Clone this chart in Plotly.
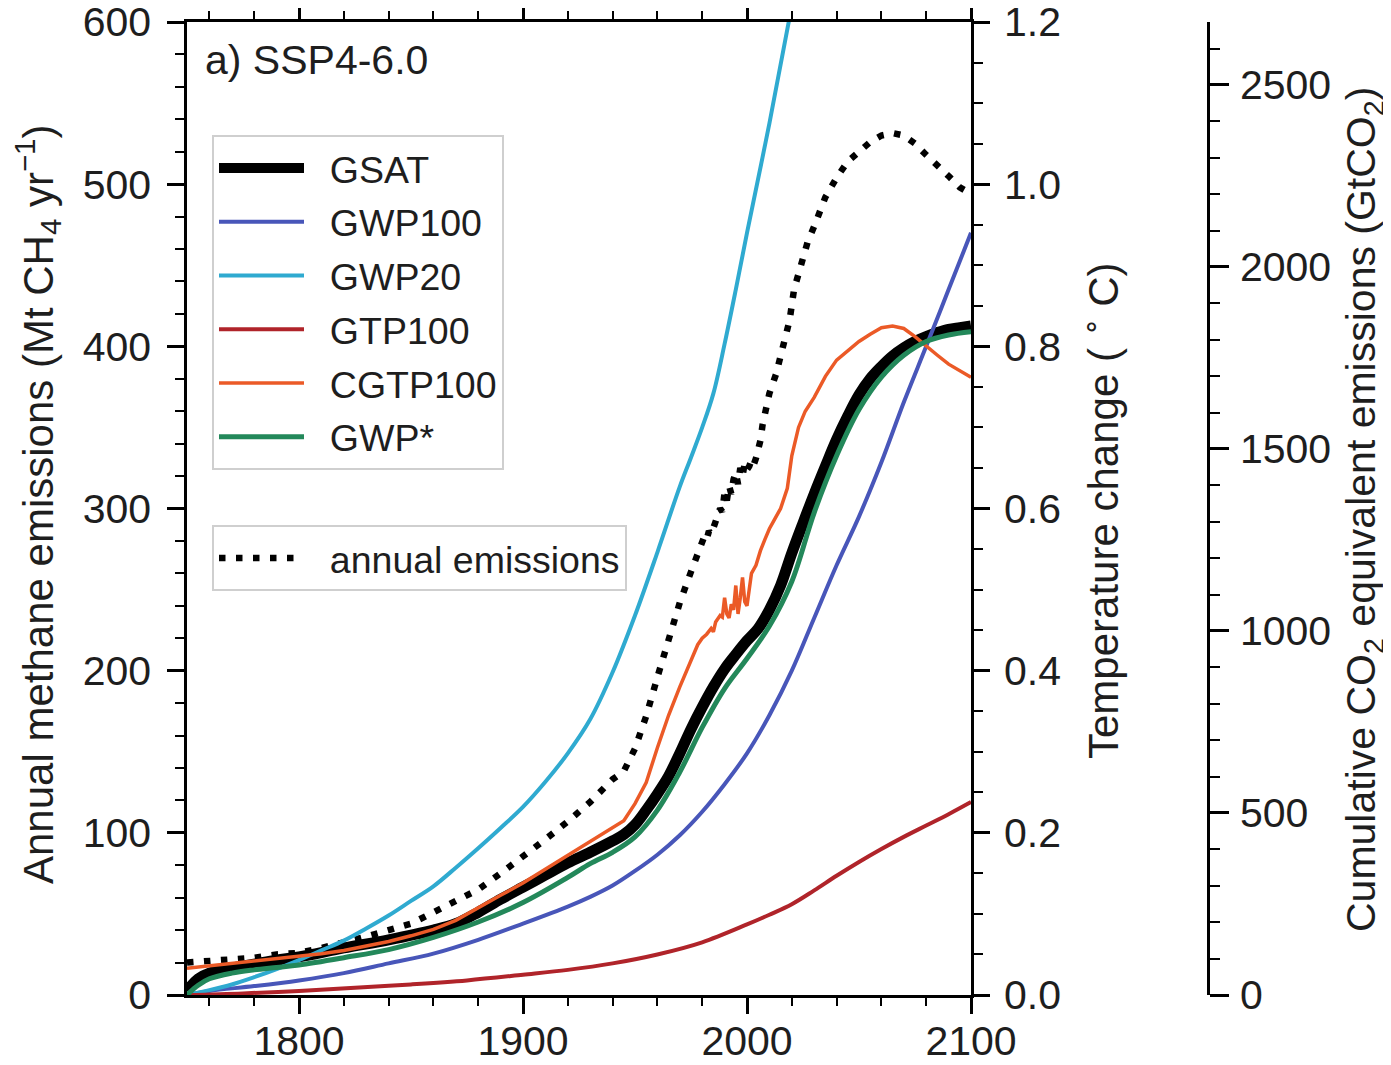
import plotly.graph_objects as go

# ---------------- data ----------------
emis_years = [1750, 1760, 1770, 1780, 1790, 1800, 1810, 1820, 1830, 1840, 1850, 1860, 1870, 1880,
              1890, 1900, 1910, 1920, 1930, 1940, 1945, 1950, 1955, 1960, 1965, 1970, 1975, 1978,
              1980, 1981, 1982, 1983, 1984, 1985, 1986, 1987, 1988, 1989, 1990, 1991, 1992, 1993,
              1994, 1995, 1996, 1997, 1998, 1999, 2000, 2001, 2002, 2003, 2004, 2005, 2006, 2007,
              2008, 2010, 2013, 2015, 2017, 2019, 2021, 2024, 2027, 2030, 2035, 2040, 2045, 2050,
              2055, 2060, 2065, 2070, 2075, 2080, 2085, 2090, 2095, 2100]
annual_emissions = [20, 21, 22, 23, 25, 26, 29, 32, 36, 40, 44, 51, 58, 65,
                    75, 85, 96, 107, 119, 133, 138, 152, 172, 196, 219, 242, 261, 272,
                    278, 283, 281, 286, 284, 289, 291, 296, 300, 298, 310, 305, 314, 309,
                    318, 322, 315, 325, 320, 328, 324, 326, 330, 327, 331, 336, 342, 352,
                    358, 371, 383, 395, 404, 416, 435, 451, 464, 474, 492, 504, 514, 520,
                    526, 530, 531.5, 530, 525, 518, 512, 505, 498, 494]

gsat_years = [1750, 1755, 1760, 1770, 1780, 1790, 1800, 1820, 1840, 1860, 1870, 1880, 1890, 1900,
              1910, 1920, 1930, 1940, 1945, 1950, 1955, 1960, 1965, 1970, 1975, 1980, 1985, 1990,
              1995, 2000, 2005, 2010, 2015, 2020, 2025, 2030, 2035, 2040, 2045, 2050, 2055, 2060,
              2065, 2070, 2075, 2080, 2085, 2090, 2095, 2100]
gsat = [0.005, 0.02, 0.027, 0.033, 0.038, 0.043, 0.047, 0.058, 0.068, 0.080, 0.088, 0.102, 0.118, 0.133,
        0.148, 0.163, 0.176, 0.190, 0.198, 0.210, 0.228, 0.248, 0.270, 0.298, 0.328, 0.355, 0.380, 0.402,
        0.420, 0.437, 0.452, 0.475, 0.505, 0.545, 0.582, 0.618, 0.652, 0.685, 0.714, 0.740, 0.760, 0.775,
        0.788, 0.798, 0.806, 0.812, 0.817, 0.821, 0.823, 0.825]

gwp100_years = [1750, 1760, 1780, 1800, 1820, 1840, 1860, 1880, 1900, 1920, 1930, 1940, 1950, 1960,
                1970, 1980, 1990, 2000, 2010, 2020, 2030, 2040, 2050, 2060, 2070, 2080, 2090, 2100]
gwp100 = [0.0, 0.005, 0.011, 0.018, 0.027, 0.039, 0.051, 0.068, 0.088, 0.109, 0.121, 0.135, 0.153, 0.173,
          0.197, 0.226, 0.260, 0.298, 0.345, 0.400, 0.465, 0.530, 0.590, 0.657, 0.731, 0.800, 0.870, 0.940]

gwp20_years = [1750, 1760, 1770, 1780, 1790, 1800, 1810, 1820, 1830, 1840, 1850, 1860, 1870, 1880,
               1890, 1900, 1910, 1920, 1930, 1940, 1950, 1960, 1970, 1975, 1980, 1985, 1990, 1995,
               2000, 2010, 2020, 2030]
gwp20 = [0.0, 0.006, 0.013, 0.022, 0.032, 0.043, 0.055, 0.067, 0.082, 0.098, 0.116, 0.134, 0.157, 0.181,
         0.206, 0.232, 0.263, 0.298, 0.340, 0.398, 0.468, 0.546, 0.627, 0.663, 0.700, 0.742, 0.803, 0.870,
         0.940, 1.075, 1.220, 1.380]

gtp100_years = [1750, 1775, 1800, 1825, 1850, 1875, 1900, 1920, 1940, 1960, 1980, 2000, 2010, 2020,
                2030, 2040, 2050, 2060, 2070, 2080, 2090, 2100]
gtp100 = [0.0, 0.002, 0.005, 0.009, 0.013, 0.018, 0.025, 0.031, 0.039, 0.050, 0.065, 0.087, 0.099, 0.112,
          0.129, 0.147, 0.164, 0.180, 0.195, 0.209, 0.223, 0.238]

cgtp_years = [1750, 1760, 1770, 1780, 1790, 1800, 1810, 1820, 1830, 1840, 1850, 1860, 1870, 1880, 1890,
              1900, 1910, 1920, 1930, 1940, 1945, 1950, 1955, 1960, 1965, 1970, 1975, 1978, 1980, 1982,
              1984, 1985, 1986, 1988, 1989, 1990, 1991, 1992, 1993, 1994, 1995, 1996, 1997, 1998, 1999,
              2000, 2001, 2002, 2004, 2006, 2008, 2010, 2012, 2015, 2018, 2020, 2023, 2026, 2030, 2035,
              2040, 2045, 2050, 2055, 2060, 2065, 2070, 2075, 2080, 2085, 2090, 2095, 2100]
cgtp100 = [0.033, 0.036, 0.039, 0.042, 0.045, 0.047, 0.051, 0.055, 0.060, 0.066, 0.073, 0.081, 0.092, 0.108, 0.123,
           0.138, 0.155, 0.172, 0.190, 0.207, 0.215, 0.236, 0.262, 0.305, 0.345, 0.380, 0.412, 0.432, 0.440, 0.445,
           0.452, 0.448, 0.460, 0.468, 0.466, 0.490, 0.470, 0.465, 0.482, 0.475, 0.505, 0.470, 0.490, 0.515, 0.485,
           0.480, 0.500, 0.520, 0.530, 0.548, 0.562, 0.575, 0.585, 0.600, 0.625, 0.665, 0.700, 0.720, 0.737, 0.763,
           0.783, 0.795, 0.806, 0.815, 0.823, 0.825, 0.822, 0.812, 0.800, 0.789, 0.778, 0.770, 0.762]

gwpstar_years = [1750, 1755, 1760, 1770, 1780, 1790, 1800, 1820, 1840, 1860, 1880, 1900, 1920, 1930,
                 1940, 1950, 1960, 1970, 1980, 1990, 2000, 2010, 2020, 2030, 2040, 2050, 2060, 2070,
                 2080, 2090, 2100]
gwpstar = [0.0, 0.012, 0.020, 0.027, 0.031, 0.034, 0.037, 0.046, 0.056, 0.071, 0.090, 0.114, 0.145, 0.162,
           0.176, 0.195, 0.228, 0.275, 0.330, 0.378, 0.415, 0.455, 0.510, 0.595, 0.665, 0.722, 0.762, 0.789,
           0.806, 0.814, 0.818]

x_ticks = [1800, 1900, 2000, 2100]
cum_ticks = [0, 500, 1000, 1500, 2000, 2500]

# ---------------- geometry / styling ----------------
FONT = "Liberation Sans, Arial, Helvetica, sans-serif"
TXT = "#1e1e1e"
OFF = 8                        # page body margin in the browser
W, H = 1391 - OFF, 1065 - OFF
PLOT_L, PLOT_R, PLOT_T, PLOT_B = 187, 971, 22, 995   # target plot box on screen
CUM_X = 1208                                          # cumulative axis on screen
ML = PLOT_L - OFF
MT = PLOT_T - OFF
MB = H - (PLOT_B - OFF)
MR = W - (CUM_X - OFF)
plot_w = W - ML - MR
plot_h = H - MT - MB
x_dom_end = (PLOT_R - PLOT_L) / plot_w


def px_x(px):
    return (px - PLOT_L) / plot_w


def px_y(py):
    return (PLOT_B - py) / plot_h


PAD = "\u00a0\u00a0"   # gap between legend sample line and label

temp_series = [
    ("GSAT", gsat_years, gsat, "#000000", 11, "spline"),
    ("GWP100", gwp100_years, gwp100, "#4856b9", 4, "spline"),
    ("GWP20", gwp20_years, gwp20, "#2faad0", 4, "spline"),
    ("GTP100", gtp100_years, gtp100, "#b0242a", 4, "spline"),
    ("CGTP100", cgtp_years, cgtp100, "#eb5a27", 3.5, "linear"),
    ("GWP*", gwpstar_years, gwpstar, "#23885a", 5, "spline"),
]

fig = go.Figure()
for name, xs, ys, col, lw, shp in temp_series:
    fig.add_trace(go.Scatter(
        x=xs, y=ys, name=PAD + name, mode="lines", yaxis="y2",
        line=dict(color=col, width=lw, shape=shp, smoothing=1.0),
        legend="legend", legendgroup=name,
    ))

fig.add_trace(go.Scatter(
    x=emis_years, y=annual_emissions, name=PAD + "annual emissions", mode="lines", yaxis="y",
    line=dict(color="black", width=6.5, dash="6.5px,10.5px"), legend="legend2",
))

# empty trace so the cumulative CO2-eq axis is rendered
fig.add_trace(go.Scatter(x=[], y=[], yaxis="y3", showlegend=False, hoverinfo="skip"))

axis_common = dict(
    showline=True, linecolor="black", linewidth=2.5,
    ticks="outside", tickcolor="black", tickwidth=2.5,
    showgrid=False, zeroline=False, automargin=False, ticklabeloverflow="allow",
    tickfont=dict(family=FONT, size=41, color=TXT),
)
minor_common = dict(tickwidth=2, ticks="outside", tickcolor="black", showgrid=False)

legend_common = dict(
    xanchor="left", yanchor="top",
    bgcolor="rgba(255,255,255,0.85)", bordercolor="#cfcfcf", borderwidth=2,
    font=dict(family=FONT, size=37.5, color=TXT), itemwidth=85,
)

fig.update_layout(
    width=W, height=H,
    margin=dict(l=ML, r=MR, t=MT, b=MB, pad=0, autoexpand=False),
    paper_bgcolor="white", plot_bgcolor="white",
    font=dict(family=FONT, color=TXT),
    xaxis=dict(
        domain=[0, x_dom_end], range=[1750, 2100], tickvals=x_ticks, ticklen=16,
        ticklabelstandoff=-8,
        mirror="ticks", minor=dict(dtick=20, tick0=1760, ticklen=8, **minor_common),
        **axis_common,
    ),
    yaxis=dict(
        range=[0, 600], dtick=100, ticklen=17, ticklabelstandoff=8,
        minor=dict(dtick=20, ticklen=9, **minor_common),
        **axis_common,
    ),
    yaxis2=dict(
        overlaying="y", side="right", anchor="x", range=[0, 1.2], dtick=0.2,
        tickformat=".1f", ticklen=16, ticklabelstandoff=6,
        minor=dict(dtick=0.05, ticklen=9, **minor_common),
        **axis_common,
    ),
    yaxis3=dict(
        overlaying="y", side="right", anchor="free", position=1.0,
        range=[0, 2673], tickvals=cum_ticks, ticklen=19, ticklabelstandoff=3,
        minor=dict(dtick=100, ticklen=10, **minor_common),
        **axis_common,
    ),
    legend=dict(x=px_x(212), y=px_y(135), tracegroupgap=2, traceorder="grouped",
                **legend_common),
    legend2=dict(x=px_x(212), y=px_y(525), **legend_common),
    showlegend=True,
)

annotations = [
    dict(text="a) SSP4-6.0", x=px_x(203), y=px_y(60), xanchor="left", yanchor="middle",
         font=dict(size=41)),
    dict(text="Annual methane emissions (Mt CH<sub>4</sub> yr<sup>\u22121</sup>)",
         x=px_x(37), y=px_y(505), textangle=-90, xanchor="center", yanchor="middle",
         font=dict(size=42)),
    dict(text="Temperature change ( <sup>\u2218</sup> C)",
         x=px_x(1100), y=px_y(511), textangle=-90, xanchor="center", yanchor="middle",
         font=dict(size=42)),
    dict(text="Cumulative CO<sub>2</sub> equivalent emissions (GtCO<sub>2</sub>)",
         x=px_x(1364), y=px_y(510), textangle=-90, xanchor="center", yanchor="middle",
         font=dict(size=41)),
]
for a in annotations:
    a.update(xref="paper", yref="paper", showarrow=False)
    a["font"].update(family=FONT, color=TXT)
fig.update_layout(annotations=annotations)

fig.write_html("out.html")
